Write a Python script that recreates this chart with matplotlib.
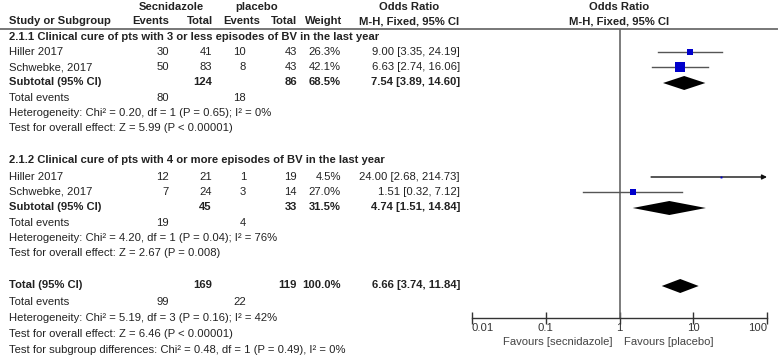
import matplotlib
matplotlib.use('Agg')
import matplotlib.pyplot as plt
from matplotlib.ticker import FixedLocator, NullFormatter

# --- data ---
studies = ["Hiller 2017", "Schwebke, 2017"]

g1_title = "2.1.1 Clinical cure of pts with 3 or less episodes of BV in the last year"
g1_ev_t = [30, 50]
g1_tot_t = [41, 83]
g1_ev_c = [10, 8]
g1_tot_c = [43, 43]
g1_weight = [26.3, 42.1]
g1_or = [9.00, 6.63]
g1_lo = [3.35, 2.74]
g1_hi = [24.19, 16.06]
g1_sub = dict(tot_t=124, tot_c=86, weight=68.5, est=7.54, lo=3.89, hi=14.60, ev_t=80, ev_c=18)
g1_het = "Heterogeneity: Chi\u00b2 = 0.20, df = 1 (P = 0.65); I\u00b2 = 0%"
g1_test = "Test for overall effect: Z = 5.99 (P < 0.00001)"

g2_title = "2.1.2 Clinical cure of pts with 4 or more episodes of BV in the last year"
g2_ev_t = [12, 7]
g2_tot_t = [21, 24]
g2_ev_c = [1, 3]
g2_tot_c = [19, 14]
g2_weight = [4.5, 27.0]
g2_or = [24.00, 1.51]
g2_lo = [2.68, 0.32]
g2_hi = [214.73, 7.12]
g2_sub = dict(tot_t=45, tot_c=33, weight=31.5, est=4.74, lo=1.51, hi=14.84, ev_t=19, ev_c=4)
g2_het = "Heterogeneity: Chi\u00b2 = 4.20, df = 1 (P = 0.04); I\u00b2 = 76%"
g2_test = "Test for overall effect: Z = 2.67 (P = 0.008)"

total = dict(tot_t=169, tot_c=119, weight=100.0, est=6.66, lo=3.74, hi=11.84, ev_t=99, ev_c=22)
tot_het = "Heterogeneity: Chi\u00b2 = 5.19, df = 3 (P = 0.16); I\u00b2 = 42%"
tot_test = "Test for overall effect: Z = 6.46 (P < 0.00001)"
sub_diff = "Test for subgroup differences: Chi\u00b2 = 0.48, df = 1 (P = 0.49), I\u00b2 = 0%"

tick_vals = [0.01, 0.1, 1, 10, 100]
tick_labels = ["0.01", "0.1", "1", "10", "100"]
fav_left = "Favours [secnidazole]"
fav_right = "Favours [placebo]"

# --- layout (pixels) ---
W, H = 778, 358
FS = 8.1
TXT = '#222222'
X_LABEL = 9
X_EVT, X_TOTT, X_EVC, X_TOTC, X_WT, X_OR = 169, 212, 246, 297, 341, 460
X_EVC_HEAD = 260
AX_L, AX_R, AX_TOP, AX_BOT = 472, 767, 29, 318

plt.rcParams['font.family'] = ['Liberation Sans', 'DejaVu Sans']

fig = plt.figure(figsize=(W / 100, H / 100), dpi=100)
bg = fig.add_axes([0, 0, 1, 1])
bg.set_xlim(0, W)
bg.set_ylim(H, 0)
bg.axis('off')


def put(x, y, s, ha='right', bold=False, color=TXT, target=None):
    (target or bg).text(x, y, s, ha=ha, va='center', fontsize=FS,
                        fontweight='bold' if bold else 'normal', color=color)


def or_text(est, lo, hi):
    return f"{est:.2f} [{lo:.2f}, {hi:.2f}]"


# header
put(171, 7, "Secnidazole", ha='center', bold=True)
put(257, 7, "placebo", ha='center', bold=True)
put(409, 7, "Odds Ratio", ha='center', bold=True)
put(619, 7, "Odds Ratio", ha='center', bold=True)
put(X_LABEL, 21, "Study or Subgroup", ha='left', bold=True)
put(X_EVT, 21, "Events", bold=True)
put(X_TOTT + 1, 21, "Total", bold=True)
put(X_EVC_HEAD, 21, "Events", bold=True)
put(X_TOTC, 21, "Total", bold=True)
put(X_WT + 1, 21, "Weight", bold=True)
put(409, 21, "M-H, Fixed, 95% CI", ha='center', bold=True)
put(619, 21, "M-H, Fixed, 95% CI", ha='center', bold=True)
bg.plot([0, 777], [29, 29], color='#777777', lw=1.4)

# forest axes
ax = fig.add_axes([AX_L / W, (H - AX_BOT) / H, (AX_R - AX_L) / W, (AX_BOT - AX_TOP) / H])
ax.set_xscale('log')
ax.set_xlim(tick_vals[0], tick_vals[-1])
ax.set_ylim(AX_BOT, AX_TOP)
ax.patch.set_visible(False)
for s in ['top', 'left', 'right']:
    ax.spines[s].set_visible(False)
ax.spines['bottom'].set_color('#333333')
ax.spines['bottom'].set_linewidth(1.0)
ax.xaxis.set_major_locator(FixedLocator(tick_vals))
ax.xaxis.set_major_formatter(NullFormatter())
ax.xaxis.set_minor_locator(FixedLocator([]))
ax.tick_params(axis='x', direction='inout', length=8, width=1, color='#333333')
ax.set_yticks([])
ax.axvline(1, color='#666666', lw=1.2)

# tick labels spread like RevMan: first left-aligned, last right-aligned
tick_ha = ['left', 'center', 'center', 'center', 'right']
for v, lab, ha in zip(tick_vals, tick_labels, tick_ha):
    ax.text(v, 328, lab, ha=ha, va='center', fontsize=FS, color='#333333', clip_on=False)

put(613, 342, fav_left, color='#444444')
put(624, 342, fav_right, ha='left', color='#444444')


def study_rows(ys, ev_t, tot_t, ev_c, tot_c, wt, est, lo, hi):
    for i, y in enumerate(ys):
        put(X_LABEL, y, studies[i], ha='left')
        put(X_EVT, y, str(ev_t[i]))
        put(X_TOTT, y, str(tot_t[i]))
        put(X_EVC, y, str(ev_c[i]))
        put(X_TOTC, y, str(tot_c[i]))
        put(X_WT, y, f"{wt[i]:.1f}%")
        put(X_OR, y, or_text(est[i], lo[i], hi[i]))
        side = 1.0 + wt[i] * 0.2
        if hi[i] > tick_vals[-1]:
            ax.annotate('', xy=(tick_vals[-1], y), xytext=(lo[i], y),
                        arrowprops=dict(arrowstyle='-|>', color='#111111', lw=1.0,
                                        mutation_scale=7, shrinkA=0, shrinkB=0),
                        annotation_clip=False)
        else:
            ax.plot([lo[i], hi[i]], [y, y], color='#555555', lw=1.0)
        ax.plot(est[i], y, marker='s', color='#0000CC', markersize=side * 0.72,
                markeredgewidth=0, zorder=3)


def diamond(y, d, half=7):
    ax.fill([d['lo'], d['est'], d['hi'], d['est']], [y, y - half, y, y + half],
            color='black', lw=0, zorder=3)


def summary(y, label, d):
    put(X_LABEL, y, label, ha='left', bold=True)
    put(X_TOTT, y, str(d['tot_t']), bold=True)
    put(X_TOTC, y, str(d['tot_c']), bold=True)
    put(X_WT, y, f"{d['weight']:.1f}%", bold=True)
    put(X_OR, y, or_text(d['est'], d['lo'], d['hi']), bold=True)
    diamond(y + 1, d)


def events(y, d):
    put(X_LABEL, y, "Total events", ha='left')
    put(X_EVT, y, str(d['ev_t']))
    put(X_EVC, y, str(d['ev_c']))


# subgroup 1
put(X_LABEL, 37, g1_title, ha='left', bold=True)
study_rows([52, 67], g1_ev_t, g1_tot_t, g1_ev_c, g1_tot_c, g1_weight, g1_or, g1_lo, g1_hi)
summary(82, "Subtotal (95% CI)", g1_sub)
events(98, g1_sub)
put(X_LABEL, 113, g1_het, ha='left')
put(X_LABEL, 128, g1_test, ha='left')

# subgroup 2
put(X_LABEL, 160, g2_title, ha='left', bold=True)
study_rows([177, 192], g2_ev_t, g2_tot_t, g2_ev_c, g2_tot_c, g2_weight, g2_or, g2_lo, g2_hi)
summary(207, "Subtotal (95% CI)", g2_sub)
events(223, g2_sub)
put(X_LABEL, 238, g2_het, ha='left')
put(X_LABEL, 253, g2_test, ha='left')

# overall
summary(285, "Total (95% CI)", total)
events(302, total)
put(X_LABEL, 318, tot_het, ha='left')
put(X_LABEL, 334, tot_test, ha='left')
put(X_LABEL, 350, sub_diff, ha='left')

fig.savefig('out.png', dpi=100, facecolor='white')
